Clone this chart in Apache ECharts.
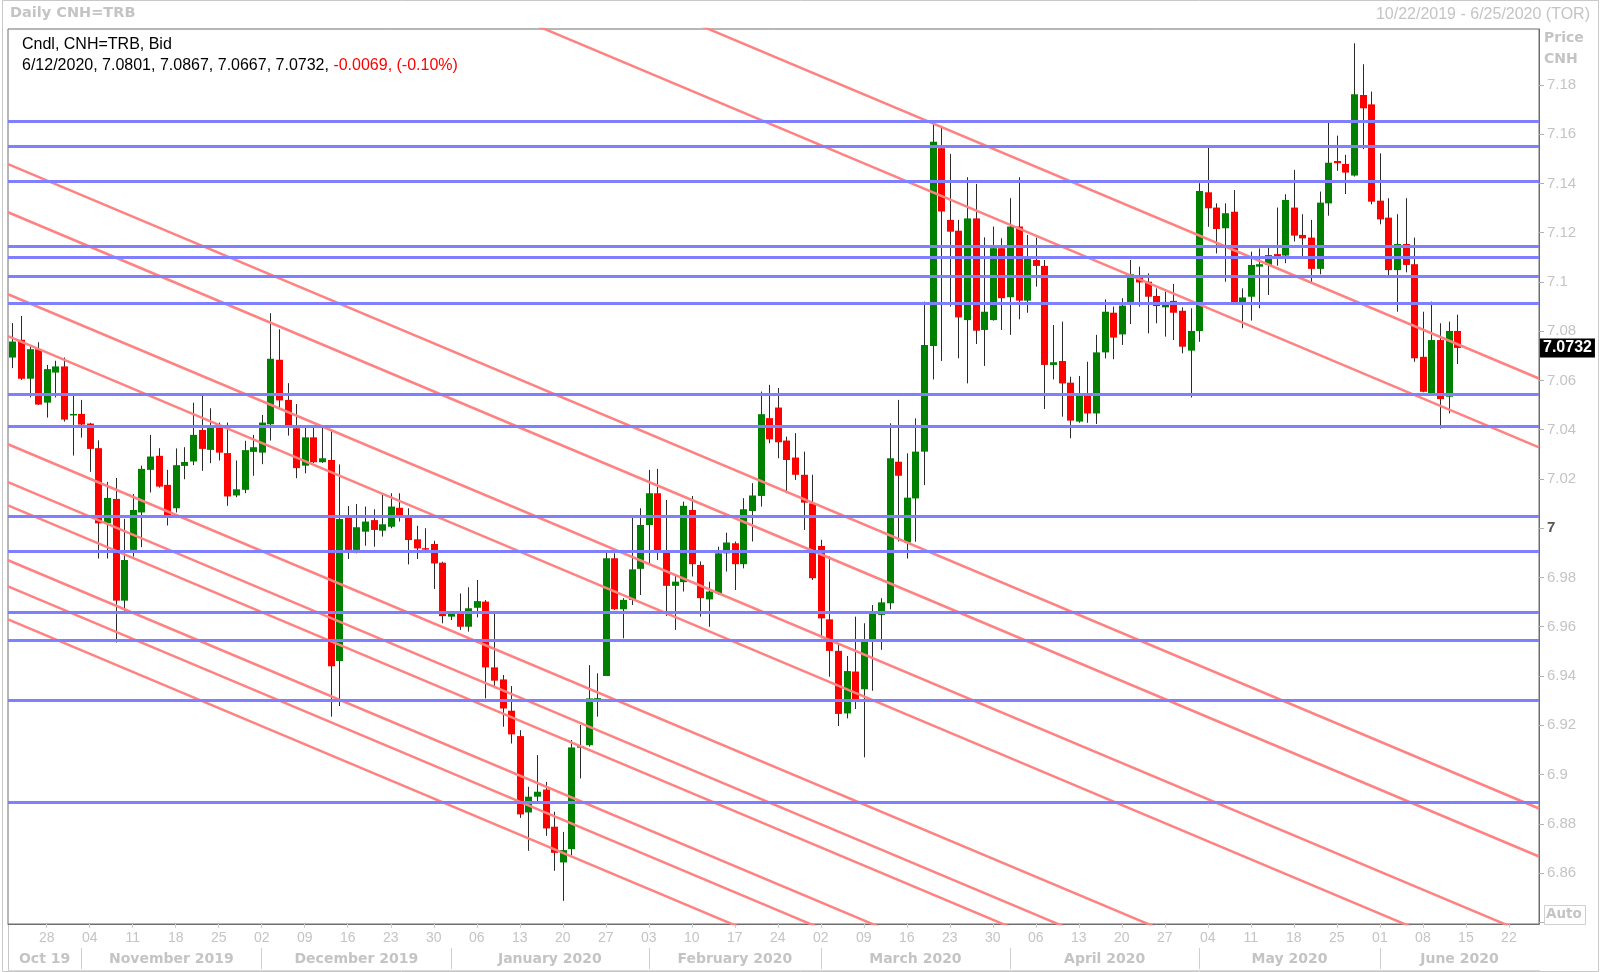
<!DOCTYPE html>
<html><head><meta charset="utf-8">
<script src="https://cdn.jsdelivr.net/npm/echarts@6/dist/echarts.min.js"></script>
<style>html,body{margin:0;padding:0;background:#fff}#c{width:1600px;height:972px}</style>
</head><body><div id="c"></div>
<script>
const startDate = '2019-10-22';
const endDate = '2020-06-25';
const opens = [7.0693,7.0765,7.0607,7.0727,7.0510,7.0632,7.0657,7.0459,7.0464,7.0425,7.0325,7.0020,7.0119,6.9706,6.9912,7.0064,7.0237,7.0294,7.0176,7.0081,
7.0253,7.0271,7.0399,7.0318,7.0410,7.0305,7.0133,7.0156,7.0310,7.0307,7.0422,7.0684,7.0521,7.0406,7.0254,7.0369,7.0268,7.0277,6.9461,7.0043,
6.9912,6.9986,7.0033,6.9990,7.0006,7.0083,7.0047,6.9955,6.9919,6.9936,6.9860,6.9641,6.9658,6.9600,6.9677,6.9702,6.9435,6.9386,6.9259,6.9156,
6.8846,6.8910,6.8939,6.8788,6.8643,6.8697,6.9110,6.9119,6.9305,6.9400,6.9878,6.9671,6.9709,6.9835,7.0013,7.0142,6.9905,6.9766,6.9781,7.0074,
6.9851,6.9711,6.9736,6.9898,6.9939,6.9854,7.0070,7.0131,7.0447,7.0490,7.0356,7.0287,7.0217,7.0101,6.9928,6.9630,6.9502,6.9248,6.9418,6.9346,
6.9540,6.9648,6.9695,7.0270,6.9942,7.0121,7.0311,7.0740,7.1543,7.1252,7.1208,7.0845,7.1258,7.0805,7.0845,7.1137,7.0938,7.1225,7.0924,7.1089,
7.1065,7.0663,7.0679,7.0591,7.0433,7.0541,7.0466,7.0714,7.0875,7.0787,7.0913,7.1026,7.1001,7.0943,7.0897,7.0923,7.0883,7.0721,7.0801,7.1364,
7.1302,7.1218,7.1285,7.0916,7.0940,7.1062,7.1069,7.1113,7.1107,7.1302,7.1191,7.1180,7.1053,7.1319,7.1491,7.1479,7.1432,7.1759,7.1721,7.1330,
7.1261,7.1048,7.1154,7.1072,7.0696,7.0548,7.0764,7.0534,7.0801];
const highs = [7.0833,7.0862,7.0738,7.0755,7.0663,7.0680,7.0693,7.0537,7.0521,7.0428,7.0357,7.0188,7.0204,7.0038,7.0139,7.0254,7.0379,7.0325,7.0237,7.0324,
7.0329,7.0510,7.0537,7.0487,7.0429,7.0429,7.0275,7.0355,7.0379,7.0460,7.0873,7.0808,7.0589,7.0504,7.0408,7.0408,7.0408,7.0399,7.0259,7.0090,
7.0098,7.0088,7.0077,7.0135,7.0142,7.0142,7.0081,7.0010,7.0000,6.9949,6.9864,6.9654,6.9735,6.9760,6.9790,6.9708,6.9654,6.9404,6.9359,6.9180,
6.8950,6.9079,6.8970,6.8849,6.8767,6.9140,6.9201,6.9444,6.9411,6.9905,6.9898,6.9716,7.0047,7.0081,7.0237,7.0241,7.0115,6.9814,7.0108,7.0131,
6.9865,6.9783,6.9925,6.9982,6.9946,7.0122,7.0183,7.0555,7.0582,7.0569,7.0372,7.0386,7.0311,7.0217,6.9953,6.9885,6.9533,6.9481,6.9641,6.9614,
6.9688,6.9716,7.0426,7.0521,7.0304,7.0446,7.0920,7.1644,7.1634,7.1520,7.1252,7.1425,7.1398,7.1181,7.1225,7.1177,7.1340,7.1425,7.1191,7.1180,
7.1089,7.0825,7.0839,7.0615,7.0618,7.0676,7.0785,7.0929,7.0900,7.0934,7.1089,7.1062,7.1035,7.0974,7.0961,7.0992,7.0897,7.0893,7.1401,7.1556,
7.1319,7.1319,7.1373,7.0974,7.1123,7.1136,7.1150,7.1302,7.1356,7.1455,7.1275,7.1252,7.1367,7.1648,7.1594,7.1516,7.1969,7.1884,7.1773,7.1522,
7.1340,7.1275,7.1340,7.1180,7.0879,7.0920,7.0832,7.0839,7.0867];
const lows = [7.0650,7.0602,7.0531,7.0500,7.0449,7.0531,7.0433,7.0295,7.0368,7.0229,6.9877,6.9877,6.9536,6.9657,6.9885,6.9923,7.0145,7.0165,7.0011,7.0064,
7.0199,7.0256,7.0233,7.0264,7.0275,7.0091,7.0126,7.0142,7.0213,7.0260,7.0356,7.0481,7.0376,7.0203,7.0223,7.0264,7.0265,6.9235,6.9278,6.9875,
6.9898,6.9929,6.9925,6.9966,7.0000,7.0027,6.9853,6.9875,6.9912,6.9753,6.9614,6.9627,6.9587,6.9580,6.9638,6.9309,6.9350,6.9194,6.9126,6.8824,
6.8690,6.8882,6.8751,6.8609,6.8487,6.8673,6.8984,6.9113,6.9235,6.9400,6.9668,6.9553,6.9688,6.9729,6.9855,6.9871,6.9644,6.9587,6.9743,6.9804,
6.9641,6.9600,6.9729,6.9824,6.9749,6.9837,6.9946,7.0088,7.0345,7.0284,7.0142,7.0196,6.9993,6.9790,6.9553,6.9397,6.9197,6.9228,6.9266,6.9070,
6.9340,6.9506,6.9671,6.9946,6.9877,6.9945,7.0175,7.0604,7.0679,7.0900,7.0690,7.0588,7.0748,7.0659,7.0843,7.0805,7.0785,7.0848,7.0875,7.0981,
7.0484,7.0604,7.0453,7.0365,7.0428,7.0428,7.0423,7.0690,7.0686,7.0744,7.0829,7.0900,7.0791,7.0832,7.0778,7.0764,7.0710,7.0531,7.0757,7.1224,
7.1116,7.1001,7.0913,7.0812,7.0843,7.0893,7.0947,7.1066,7.1076,7.1164,7.1103,7.0994,7.1031,7.1269,7.1451,7.1357,7.1428,7.1539,7.1315,7.1234,
7.1028,7.0879,7.1039,7.0676,7.0552,7.0543,7.0405,7.0466,7.0667];
const closes = [7.0758,7.0607,7.0727,7.0502,7.0646,7.0657,7.0441,7.0464,7.0421,7.0322,7.0020,7.0123,6.9706,6.9871,7.0074,7.0241,7.0291,7.0169,7.0050,7.0256,
7.0269,7.0379,7.0322,7.0410,7.0307,7.0129,7.0158,7.0317,7.0329,7.0429,7.0688,7.0519,7.0416,7.0244,7.0369,7.0268,7.0284,6.9440,7.0037,6.9912,
7.0004,7.0027,6.9993,7.0016,7.0088,7.0044,6.9952,6.9918,6.9917,6.9857,6.9643,6.9652,6.9600,6.9675,6.9704,6.9435,6.9381,6.9268,6.9163,6.8838,
6.8910,6.8930,6.8781,6.8682,6.8693,6.9110,6.9115,6.9309,6.9310,6.9878,6.9671,6.9709,6.9833,7.0013,7.0142,6.9901,6.9766,6.9783,7.0091,6.9854,
6.9716,6.9743,6.9898,6.9942,6.9854,7.0077,7.0133,7.0463,7.0361,7.0349,7.0277,7.0217,7.0104,6.9797,6.9634,6.9502,6.9246,6.9420,6.9296,6.9540,
6.9655,6.9699,7.0284,7.0213,7.0124,7.0311,7.0744,7.1569,7.1286,7.1204,7.0856,7.1258,7.0802,7.0879,7.1137,7.0934,7.1225,7.0924,7.1105,7.1065,
7.0663,7.0674,7.0588,7.0437,7.0541,7.0466,7.0714,7.0879,7.0774,7.0904,7.1031,7.0998,7.0940,7.0902,7.0919,7.0875,7.0737,7.0801,7.1369,7.1299,
7.1215,7.1279,7.0916,7.0937,7.1069,7.1072,7.1109,7.1103,7.1333,7.1188,7.1177,7.1053,7.1322,7.1484,7.1482,7.1444,7.1762,7.1705,7.1326,7.1254,
7.1048,7.1154,7.1069,7.0690,7.0554,7.0764,7.0524,7.0801,7.0732];
const blueLevels = [7.1654,7.1550,7.1407,7.1143,7.1099,7.1025,7.0912,7.0544,7.0413,7.0048,6.9905,6.9660,6.9545,6.9300,6.8886];
const redLineStart = [7.3224,7.2944,7.1478,7.1283,7.0950,7.0780,7.0341,7.0187,7.0093,6.9870,6.9764,6.9630];
const redLineEnd   = [7.0608,7.0328,6.8862,6.8667,6.8334,6.8163,6.7725,6.7571,6.7477,6.7254,6.7148,6.7014];
const yTickValues  = [6.84,6.86,6.88,6.90,6.92,6.94,6.96,6.98,7.00,7.02,7.04,7.06,7.08,7.10,7.12,7.14,7.16,7.18];
const yLabelValues = [6.86,6.88,6.90,6.92,6.94,6.96,6.98,7.00,7.02,7.04,7.06,7.08,7.10,7.12,7.14,7.16,7.18];
const monthNames = ['Oct 19','November 2019','December 2019','January 2020','February 2020','March 2020','April 2020','May 2020','June 2020'];
const lastPrice = 7.0732;
const yMin = 6.8393, yMax = 7.2027;

function weekdays(s, e) {
  const out = []; let d = new Date(s + 'T00:00:00Z'); const end = new Date(e + 'T00:00:00Z');
  while (d <= end) { const w = d.getUTCDay(); if (w !== 0 && w !== 6) out.push(d.toISOString().slice(0, 10)); d = new Date(d.getTime() + 86400000); }
  return out;
}
const dates = weekdays(startDate, endDate);
const N = dates.length;
const candleData = opens.map((o, i) => [i, o, closes[i], lows[i], highs[i]]);
const monthStarts = [];
dates.forEach((d, i) => { if (i > 0 && d.slice(5, 7) !== dates[i - 1].slice(5, 7)) monthStarts.push(i); });
const bounds = [-0.5].concat(monthStarts, [N - 0.5]);
const monthMids = [];
for (let k = 0; k < bounds.length - 1; k++) monthMids.push((bounds[k] + bounds[k + 1]) / 2);
const isMonday = (idx, val) => new Date(val + 'T00:00:00Z').getUTCDay() === 1;

const GRAY = '#c4c4c4';
const chart = echarts.init(document.getElementById('c'), null, { renderer: 'canvas' });

function renderCandle(params, api) {
  const i = api.value(0), o = api.value(1), c = api.value(2), l = api.value(3), h = api.value(4);
  const pO = api.coord([i, o]), pC = api.coord([i, c]), pH = api.coord([i, h]), pL = api.coord([i, l]);
  const w = Math.max(1, Math.round(api.size([1, 0])[0] * 0.78));
  const x = Math.round(pO[0]);
  const top = Math.min(pO[1], pC[1]), bot = Math.max(pO[1], pC[1]);
  const up = c > o;
  return {
    type: 'group', children: [
      { type: 'line', shape: { x1: x + 0.5, y1: pH[1], x2: x + 0.5, y2: pL[1] }, style: { stroke: '#2a2a2a', lineWidth: 1 } },
      { type: 'rect', shape: { x: x + 0.5 - w / 2, y: top, width: w, height: Math.max(1.5, bot - top) }, style: { fill: up ? '#008000' : '#ff0000' } }
    ]
  };
}

const redSeries = redLineStart.map((v0, k) => ({
  type: 'line', xAxisIndex: 1, yAxisIndex: 0, z: 3, silent: true, clip: true,
  symbol: 'none', data: [[-0.5, v0], [N - 0.5, redLineEnd[k]]],
  lineStyle: { color: '#ff8282', width: 2.5 }
}));
redSeries[0].markLine = {
  silent: true, symbol: ['none', 'none'], animation: false, precision: 4,
  data: blueLevels.map(v => ({ yAxis: v, lineStyle: { color: '#8080ff', width: 3, type: 'solid' }, label: { show: false } }))
    .concat([{ yAxis: lastPrice, lineStyle: { color: 'rgba(0,0,0,0)', width: 0 },
      label: { show: true, position: 'end', distance: 1, formatter: '7.0732', color: '#fff', backgroundColor: '#000',
        fontFamily: 'Liberation Sans', fontWeight: 'bold', fontSize: 16, padding: [2, 3, 1, 3] } }])
};

chart.setOption({
  animation: false,
  backgroundColor: '#fff',
  grid: { left: 8, right: 61, top: 29, bottom: 48, show: true, borderColor: '#6e6e6e', borderWidth: 1, containLabel: false },
  xAxis: [
    {
      type: 'category', data: dates, boundaryGap: true, position: 'bottom',
      axisLine: { show: true, onZero: false, lineStyle: { color: '#6e6e6e' } },
      axisTick: { show: true, interval: isMonday, alignWithLabel: true, length: 4, lineStyle: { color: '#cfcfcf' } },
      axisLabel: { show: true, interval: isMonday, formatter: v => v.slice(8, 10), color: GRAY, fontFamily: 'Liberation Sans', fontSize: 14, margin: 7 },
      splitLine: { show: false }
    },
    {
      type: 'value', min: -0.5, max: N - 0.5, position: 'bottom', offset: 24,
      axisLine: { show: false, onZero: false },
      axisTick: { show: true, customValues: monthStarts, length: 21, inside: false, lineStyle: { color: '#cfcfcf' } },
      axisLabel: { show: true, customValues: monthMids, margin: 4,
        formatter: v => { const k = monthMids.findIndex(m => Math.abs(m - v) < 0.01); return k >= 0 ? monthNames[k] : ''; },
        color: GRAY, fontFamily: 'DejaVu Sans', fontWeight: 'bold', fontSize: 14 },
      splitLine: { show: false }
    }
  ],
  yAxis: [{
    type: 'value', position: 'right', min: yMin, max: yMax, scale: true,
    axisLine: { show: true, onZero: false, lineStyle: { color: '#6e6e6e' } },
    axisTick: { show: true, inside: false, customValues: yTickValues, length: 5, lineStyle: { color: '#b0b0b0' } },
    minorTick: { show: false },
    axisLabel: {
      show: true, customValues: yLabelValues, margin: 8, color: GRAY, fontFamily: 'Liberation Sans', fontSize: 15,
      formatter: v => { const s = String(parseFloat(Number(v).toFixed(2))); return s === '7' ? '{b|7}' : s; },
      rich: { b: { fontWeight: 'bold', color: '#555', fontFamily: 'Liberation Sans', fontSize: 15 } }
    },
    splitLine: { show: false }, minorSplitLine: { show: false }
  }],
  series: [
    {
      type: 'custom', name: 'CNH', xAxisIndex: 0, yAxisIndex: 0, z: 2, silent: true,
      renderItem: renderCandle, encode: { x: 0, y: [1, 2, 3, 4] }, data: candleData, clip: true
    }
  ].concat(redSeries),
  graphic: [
    { type: 'rect', silent: true, z: -1, shape: { x: 2.5, y: 0.5, width: 1596, height: 971 }, style: { fill: 'none', stroke: '#c8c8c8', lineWidth: 1 } },
    { type: 'line', silent: true, shape: { x1: 8.5, y1: 924, x2: 8.5, y2: 970 }, style: { stroke: '#c8c8c8', lineWidth: 1 } },
    { type: 'line', silent: true, shape: { x1: 8, y1: 970.5, x2: 1540, y2: 970.5 }, style: { stroke: '#d8d8d8', lineWidth: 1 } },
    { type: 'text', silent: true, left: 10, top: 6, style: { text: 'Daily CNH=TRB', font: 'bold 14.5px "DejaVu Sans"', fill: GRAY } },
    { type: 'text', silent: true, right: 10, top: 7, style: { text: '10/22/2019 - 6/25/2020 (TOR)', font: '16px "Liberation Sans"', fill: GRAY } },
    { type: 'text', silent: true, left: 22, top: 37, style: { text: 'Cndl, CNH=TRB, Bid', font: '16px "Liberation Sans"', fill: '#000' } },
    { type: 'text', silent: true, left: 22, top: 58, style: {
      text: '{k|6/12/2020, 7.0801, 7.0867, 7.0667, 7.0732, }{r|-0.0069, (-0.10%)}',
      rich: { k: { font: '16px "Liberation Sans"', fill: '#000' }, r: { font: '16px "Liberation Sans"', fill: '#ff0000' } } } },
    { type: 'text', silent: true, left: 1544, top: 31, style: { text: 'Price', font: 'bold 14px "DejaVu Sans"', fill: GRAY } },
    { type: 'text', silent: true, left: 1544, top: 52, style: { text: 'CNH', font: 'bold 14px "DejaVu Sans"', fill: GRAY } },
    { type: 'rect', silent: true, z: 10, shape: { x: 1544.5, y: 905.5, width: 41, height: 19 }, style: { fill: '#fff', stroke: '#d0d0d0', lineWidth: 1 } },
    { type: 'text', silent: true, z: 11, left: 1546, top: 907, style: { text: 'Auto', font: 'bold 13.5px "DejaVu Sans"', fill: GRAY } }
  ]
});
</script>
</body></html>
